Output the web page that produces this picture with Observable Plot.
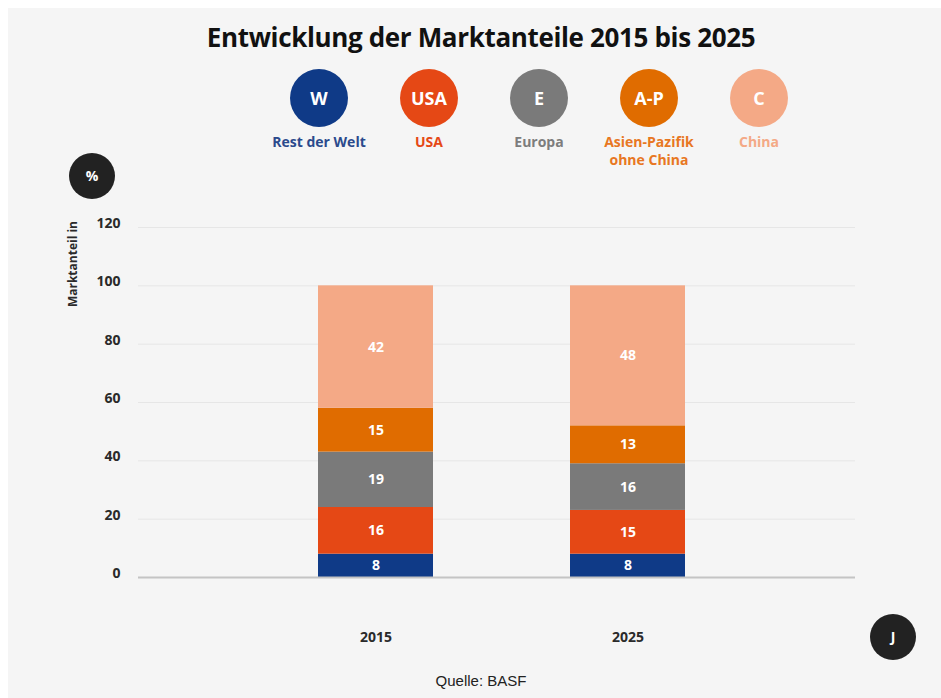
<!DOCTYPE html>
<html>
<head>
<meta charset="utf-8">
<script src="https://cdn.jsdelivr.net/npm/d3@7"></script>
<script src="https://cdn.jsdelivr.net/npm/@observablehq/plot@0.6"></script>
<style>
  html, body { margin: 0; padding: 0; background: #ffffff; }
  body { width: 941px; height: 698px; position: relative; overflow: hidden; font-family: "Open Sans", sans-serif; }
  #panel { position: absolute; left: 8px; top: 8px; width: 933px; height: 690px; background: #f5f5f5; }
  #title { position: absolute; left: 0; top: 19px; width: 962px; text-align: center; font-size: 26px; font-weight: 700; color: #111; letter-spacing: -0.35px; }
  .leg { position: absolute; width: 140px; text-align: center; }
  .leg .dot { width: 58px; height: 58px; border-radius: 50%; margin: 0 auto; color: #fff; font-weight: 700; font-size: 18px; line-height: 58px; }
  .leg .lab { margin-top: 6px; font-size: 14px; font-weight: 700; line-height: 18px; }
  .badge { position: absolute; width: 46px; height: 46px; border-radius: 50%; background: #222; color: #fff; font-weight: 700; font-size: 14px; line-height: 46px; text-align: center; }
  #chart { position: absolute; left: 0; top: 160px; }
  #source { position: absolute; left: 0; top: 672px; width: 962px; text-align: center; font-size: 15px; color: #222; font-family: "Liberation Sans Narrow", "Liberation Sans", sans-serif; }
</style>
</head>
<body>
<div id="panel"></div>
<div id="title">Entwicklung der Marktanteile 2015 bis 2025</div>
<div id="legend"></div>
<div class="badge" style="left:69px; top:153px;">%</div>
<div class="badge" style="left:870px; top:614px;">J</div>
<div id="chart"></div>
<div id="source">Quelle: BASF</div>
<script>
const years = ["2015", "2025"];
const regions = ["Rest der Welt", "USA", "Europa", "Asien-Pazifik ohne China", "China"];
const abbreviations = ["W", "USA", "E", "A-P", "C"];
const legendLabels = ["Rest der Welt", "USA", "Europa", "Asien-Pazifik<br>ohne China", "China"];
const values2015 = [8, 16, 19, 15, 42];
const values2025 = [8, 15, 16, 13, 48];
const colors = ["#0f3a87", "#e54815", "#7a7a7a", "#e06c00", "#f4a986"];
const labelColors = ["#2b4a8c", "#e54815", "#7d7d7d", "#e87722", "#f4a986"];
const yTicks = [0, 20, 40, 60, 80, 100, 120];

const data = [];
regions.forEach((r, i) => {
  data.push({year: years[0], region: r, value: values2015[i]});
  data.push({year: years[1], region: r, value: values2025[i]});
});

// legend
const legend = document.getElementById("legend");
regions.forEach((r, i) => {
  const d = document.createElement("div");
  d.className = "leg";
  d.style.left = (319 + i * 110 - 70) + "px";
  d.style.top = "69px";
  d.innerHTML = `<div class="dot" style="background:${colors[i]}">${abbreviations[i]}</div><div class="lab" style="color:${labelColors[i]}">${legendLabels[i]}</div>`;
  legend.appendChild(d);
});

const chart = Plot.plot({
  width: 941,
  height: 505,
  marginLeft: 138,
  marginRight: 86,
  marginTop: 67,
  marginBottom: 88,
  style: {background: "transparent", fontFamily: "Open Sans, sans-serif"},
  x: {domain: years, range: [249.5, 753.5], paddingInner: 0.544, paddingOuter: 0.272, label: null},
  y: {domain: [0, 120], label: null},
  color: {domain: regions, range: colors},
  marks: [
    Plot.ruleY(yTicks, {stroke: "#e6e6e6", strokeWidth: 1}),
    Plot.barY(data, Plot.stackY({x: "year", y: "value", fill: "region", z: "region", order: regions})),
    Plot.text(data, Plot.stackY({x: "year", y: "value", z: "region", text: "value", order: regions, fill: "white", fontWeight: 700, fontSize: 14})),
    Plot.ruleY([0], {stroke: "#c4c4c4", strokeWidth: 2}),
    Plot.axisY({ticks: yTicks, tickSize: 0, tickPadding: 18, dy: -4, fontSize: 14, fontWeight: 700, fill: "#2a2a2a", label: null}),
    Plot.axisX({tickSize: 0, tickPadding: 55, fontSize: 14, fontWeight: 700, fill: "#2a2a2a", label: null})
  ]
});
document.getElementById("chart").appendChild(chart);

// rotated axis title
d3.select(chart).append("text")
  .attr("transform", "translate(77,61) rotate(-90)")
  .attr("text-anchor", "end")
  .attr("font-size", 12)
  .attr("font-weight", 700)
  .attr("fill", "#2a2a2a")
  .text("Marktanteil in");
</script>
</body>
</html>
